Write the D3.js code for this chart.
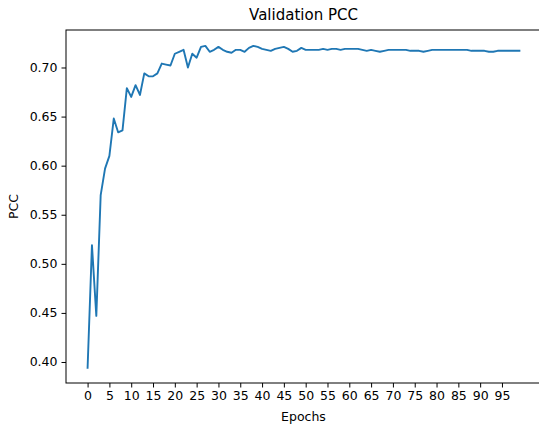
<!DOCTYPE html>
<html>
<head>
<meta charset="utf-8">
<script src="https://cdn.jsdelivr.net/npm/d3@7"></script>
<style>
  body { margin: 0; background: #fff; overflow: hidden; }
  text { font-family: "DejaVu Sans", sans-serif; fill: #000; }
</style>
</head>
<body>
<div id="chart"></div>
<script>
// validation PCC per epoch
const epochs = d3.range(0, 100);
const pcc = [
  0.394, 0.519, 0.447, 0.570, 0.597, 0.610, 0.648, 0.634, 0.636, 0.679,
  0.670, 0.682, 0.672, 0.694, 0.691, 0.691, 0.694, 0.704, 0.703, 0.702,
  0.714, 0.716, 0.718, 0.700, 0.714, 0.710, 0.721, 0.722, 0.716, 0.718,
  0.721, 0.718, 0.716, 0.715, 0.718, 0.718, 0.716, 0.720, 0.722, 0.721,
  0.719, 0.718, 0.717, 0.719, 0.720, 0.721, 0.719, 0.716, 0.717, 0.720,
  0.718, 0.718, 0.718, 0.718, 0.719, 0.718, 0.719, 0.719, 0.718, 0.719,
  0.719, 0.719, 0.719, 0.718, 0.717, 0.718, 0.717, 0.716, 0.717, 0.718,
  0.718, 0.718, 0.718, 0.718, 0.717, 0.717, 0.717, 0.716, 0.717, 0.718,
  0.718, 0.718, 0.718, 0.718, 0.718, 0.718, 0.718, 0.718, 0.717, 0.717,
  0.717, 0.717, 0.716, 0.716, 0.717, 0.717, 0.717, 0.717, 0.717, 0.717
];
const xTicks = d3.range(0, 100, 5);
const yTicks = [0.40, 0.45, 0.50, 0.55, 0.60, 0.65, 0.70];

const W = 539, H = 426;
// plot box (the right spine falls just outside the picture)
const plot = { left: 66, right: 541, top: 30, bottom: 383 };

const svg = d3.select("#chart").append("svg")
  .attr("width", W).attr("height", H);

const x = d3.scaleLinear().domain([-4.95, 103.95]).range([plot.left, plot.right]);
const y = d3.scaleLinear().domain([0.3786, 0.7382]).range([plot.bottom, plot.top]);

// line
svg.append("path")
  .datum(pcc)
  .attr("fill", "none")
  .attr("stroke", "#1f77b4")
  .attr("stroke-width", 1.9)
  .attr("stroke-linejoin", "round")
  .attr("stroke-linecap", "square")
  .attr("d", d3.line().x((d, i) => x(epochs[i])).y(d => y(d)));

// axes
const gx = svg.append("g")
  .attr("transform", "translate(0," + plot.bottom + ")")
  .call(d3.axisBottom(x).tickValues(xTicks).tickSize(4.5).tickPadding(4).tickFormat(d3.format("d")));
const gy = svg.append("g")
  .attr("transform", "translate(" + plot.left + ",0)")
  .call(d3.axisLeft(y).tickValues(yTicks).tickSize(4.5).tickPadding(4).tickFormat(d3.format(".2f")));
[gx, gy].forEach(g => {
  g.select(".domain").remove();
  g.selectAll("text").style("font-size", "12.5px").style("font-family", "DejaVu Sans");
  g.selectAll("line").attr("stroke", "#000").attr("stroke-width", 1);
});

// frame
svg.append("rect")
  .attr("x", plot.left).attr("y", plot.top)
  .attr("width", plot.right - plot.left).attr("height", plot.bottom - plot.top)
  .attr("fill", "none").attr("stroke", "#000").attr("stroke-width", 1);

// labels
svg.append("text")
  .attr("x", (plot.left + plot.right) / 2).attr("y", 20)
  .attr("text-anchor", "middle")
  .style("font-size", "15px")
  .text("Validation PCC");

svg.append("text")
  .attr("x", (plot.left + plot.right) / 2).attr("y", 421)
  .attr("text-anchor", "middle")
  .style("font-size", "12.5px")
  .text("Epochs");

svg.append("text")
  .attr("transform", "translate(18," + (plot.top + plot.bottom) / 2 + ") rotate(-90)")
  .attr("text-anchor", "middle")
  .style("font-size", "12.5px")
  .text("PCC");
</script>
</body>
</html>
